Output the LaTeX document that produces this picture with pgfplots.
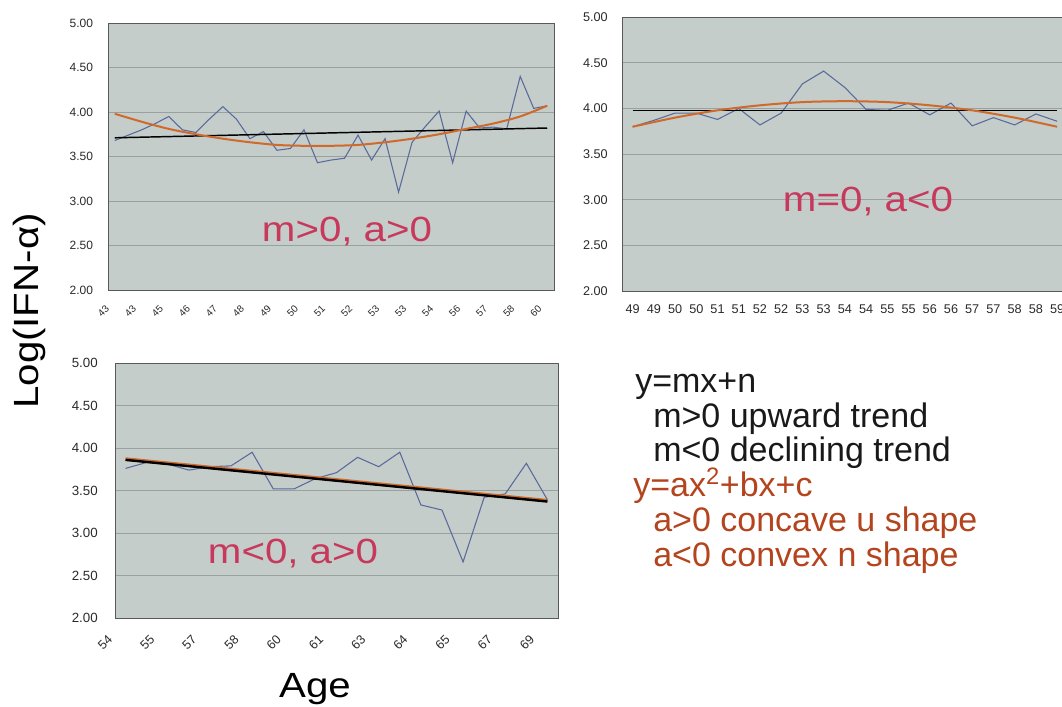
\documentclass[border=0pt]{standalone}
\usepackage{fontspec}
\setmainfont{Liberation Sans}
\newfontfamily\widefont[FakeStretch=1.15]{Liberation Sans}
\usepackage{pgfplots}
\pgfplotsset{compat=1.18}
\definecolor{plotbg}{HTML}{C4CDC9}
\definecolor{gridc}{HTML}{98A19E}
\definecolor{serblue}{HTML}{5A6A9C}
\definecolor{trendor}{HTML}{D0692A}
\definecolor{annot}{HTML}{C8375C}
\definecolor{legred}{HTML}{B4441E}
\definecolor{ticktxt}{HTML}{2A2A2A}
\pgfplotsset{panel/.style={
  scale only axis, anchor=south west,
  axis background/.style={fill=plotbg},
  ymin=2, ymax=5, ytick={2,2.5,3,3.5,4,4.5,5},
  yticklabels={2.00,2.50,3.00,3.50,4.00,4.50,5.00},
  ymajorgrids, grid style={gridc, line width=0.6pt},
  axis line style={draw=black!65, line width=0.5pt},
  tick style={draw=none}, major tick length=0pt,
  ticklabel style={text=ticktxt},
}}
\begin{document}
\begin{tikzpicture}
% top-left
\begin{axis}[panel, at={(81pt,312pt)}, width=334.5pt, height=200.25pt,
  xmin=0.5, xmax=33.5, xtick={1,3,...,33},
  xticklabels={43,43,45,46,47,48,49,50,51,52,53,53,54,56,57,58,60},
  yticklabel style={font=\fontsize{9}{9}\selectfont, inner sep=0pt, xshift=-11pt},
  xticklabel style={font=\fontsize{7.5}{7.5}\selectfont, xshift=-7.5pt, yshift=-11pt, rotate=45, anchor=north east, inner sep=0pt}]
\addplot[serblue, line width=0.8pt] coordinates {
(1,3.68) (2,3.74) (3,3.80) (4,3.87) (5,3.95) (6,3.80) (7,3.77) (8,3.92) (9,4.06) (10,3.92)
(11,3.70) (12,3.78) (13,3.57) (14,3.59) (15,3.80) (16,3.43) (17,3.46) (18,3.48) (19,3.74) (20,3.46)
(21,3.70) (22,3.10) (23,3.66) (24,3.84) (25,4.01) (26,3.43) (27,4.01) (28,3.82) (29,3.83) (30,3.81)
(31,4.40) (32,4.04) (33,4.07)};
\addplot[black, line width=1.1pt] coordinates {(1,3.71) (33,3.82)};
\addplot[trendor, line width=1.5pt, smooth] coordinates {
(1,3.98) (3,3.89) (5,3.81) (7,3.75) (9,3.70) (11,3.66) (13,3.63) (15,3.62) (17,3.62)
(19,3.63) (21,3.66) (23,3.70) (25,3.75) (27,3.81) (29,3.87) (31,3.95) (33,4.07)};
\end{axis}
% top-right
\begin{axis}[panel, at={(466.5pt,311.25pt)}, width=334.3pt, height=205.3pt,
  xmin=0.5, xmax=21.5, xtick={1,...,21},
  xticklabels={49,49,50,50,51,51,52,52,53,53,54,54,55,55,56,56,57,57,58,58,59},
  yticklabel style={font=\fontsize{9.5}{9.5}\selectfont, inner sep=0pt, xshift=-10.5pt},
  xticklabel style={font=\fontsize{9.5}{9.5}\selectfont, anchor=north, inner sep=0pt, yshift=-10pt}]
\addplot[serblue, line width=0.8pt] coordinates {
(1,3.80) (2,3.87) (3,3.95) (4,3.95) (5,3.88) (6,4.00) (7,3.82) (8,3.95) (9,4.27) (10,4.41)
(11,4.23) (12,3.99) (13,3.98) (14,4.06) (15,3.93) (16,4.06) (17,3.81) (18,3.90) (19,3.82) (20,3.94) (21,3.86)};
\addplot[black, line width=1.1pt] coordinates {(1,3.98) (21,3.98)};
\addplot[trendor, line width=1.5pt, smooth] coordinates {
(1,3.80) (3,3.90) (5,3.98) (7,4.035) (9,4.07) (11,4.08) (13,4.07) (15,4.035) (17,3.98) (19,3.90) (21,3.80)};
\end{axis}
% bottom-left
\begin{axis}[panel, at={(86.25pt,66pt)}, width=332.25pt, height=191.25pt,
  xmin=0.5, xmax=21.5, xtick={1,3,...,21},
  xticklabels={54,55,57,58,60,61,63,64,65,67,69},
  yticklabel style={font=\fontsize{10}{10}\selectfont, inner sep=0pt, xshift=-12.75pt},
  xticklabel style={font=\fontsize{9.5}{9.5}\selectfont, xshift=-14pt, yshift=-12pt, rotate=45, anchor=north east, inner sep=0pt}]
\addplot[serblue, line width=0.8pt] coordinates {
(1,3.76) (2,3.83) (3,3.81) (4,3.74) (5,3.78) (6,3.79) (7,3.95) (8,3.52) (9,3.52) (10,3.64)
(11,3.71) (12,3.89) (13,3.78) (14,3.95) (15,3.33) (16,3.27) (17,2.66) (18,3.42) (19,3.46) (20,3.82) (21,3.39)};
\addplot[trendor, line width=2.6pt] coordinates {(1,3.87) (21,3.38)};
\addplot[black, line width=1.8pt] coordinates {(1,3.86) (21,3.37)};
\end{axis}
\begin{scope}[x=0.75pt,y=0.75pt]
% annotations
\node[annot, anchor=base, font=\widefont\fontsize{26.25}{26.25}\selectfont] at (347,464) {m>0, a>0};
\node[annot, anchor=base, font=\widefont\fontsize{26.25}{26.25}\selectfont] at (868,494) {m=0, a<0};
\node[annot, anchor=base, font=\widefont\fontsize{26.25}{26.25}\selectfont] at (293,142) {m<0, a>0};
% legend text
\begin{scope}[every node/.style={anchor=base west, inner sep=0pt, font=\fontsize{25.5}{25.5}\selectfont}]
\node[text=black!90] at (635,313) {y=mx+n};
\node[text=black!90] at (653,278) {m>0 upward trend};
\node[text=black!90] at (653,244) {m<0 declining trend};
\node[text=legred] at (633,209) {y=ax\textsuperscript{2}+bx+c};
\node[text=legred] at (653,174) {a>0 concave u shape};
\node[text=legred] at (653,139) {a<0 convex n shape};
\end{scope}
% axis titles
\node[rotate=90, anchor=base, font=\widefont\fontsize{26.25}{26.25}\selectfont] at (38,395) {Log(IFN-α)};
\node[anchor=base, font=\widefont\fontsize{26.25}{26.25}\selectfont] at (315,9) {Age};
\pgfresetboundingbox
\useasboundingbox (0,0) rectangle (1062,706);
\end{scope}
\end{tikzpicture}
\end{document}
